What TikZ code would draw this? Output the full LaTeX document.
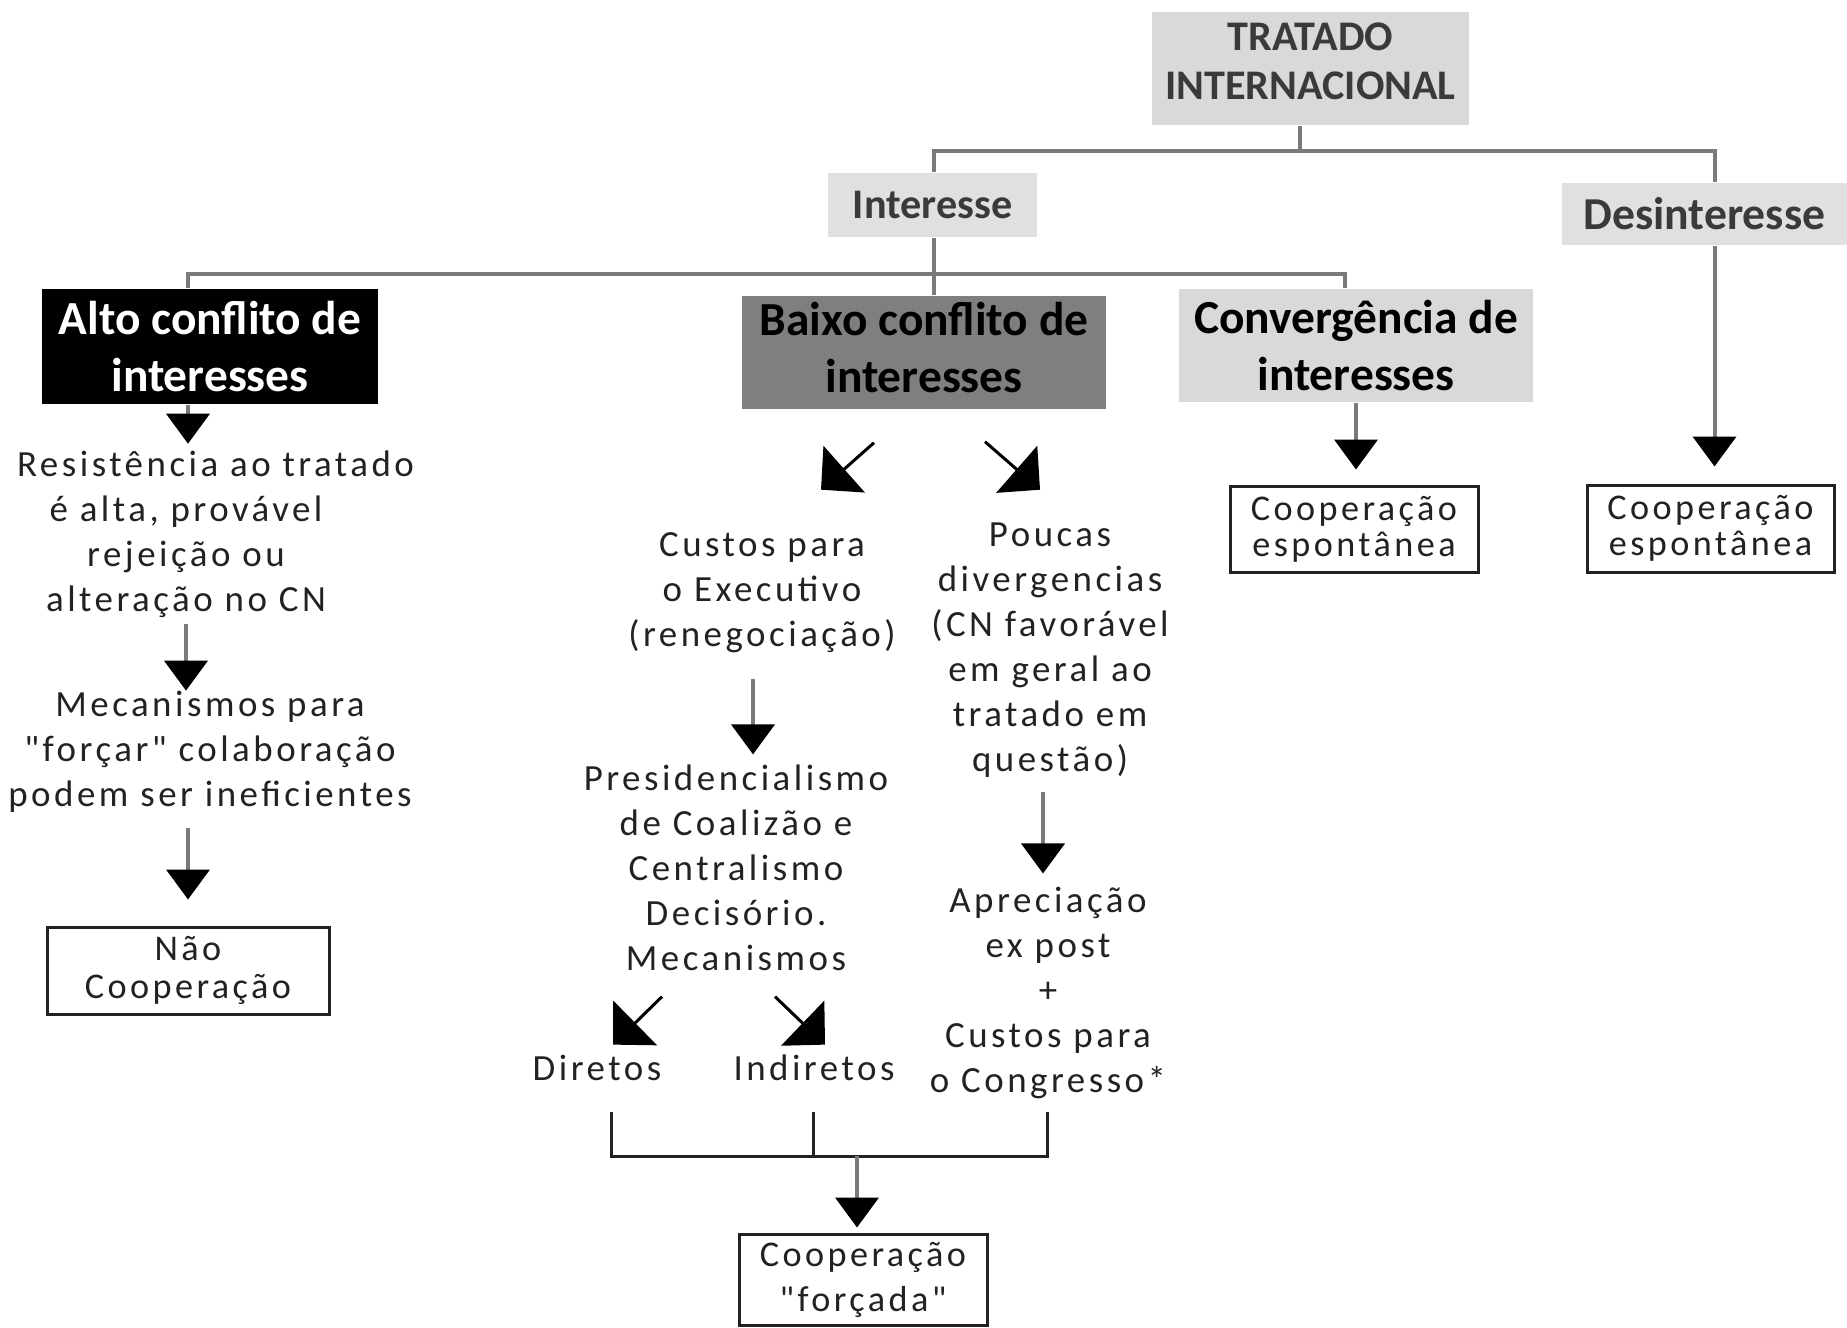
\documentclass[tikz,border=0pt]{standalone}
\usepackage{fontspec}
\setmainfont{Carlito}
\newfontfamily\trk[LetterSpace=9.5]{Carlito}
\usetikzlibrary{arrows.meta}
\definecolor{lgray}{HTML}{D9D9D9}
\definecolor{lgraytwo}{HTML}{E0E0E0}
\definecolor{mgray}{HTML}{7F7F7F}
\definecolor{cgray}{HTML}{7A7A7A}
\definecolor{ttext}{HTML}{3A3A3A}
\definecolor{btext}{HTML}{222222}
\begin{document}
\begin{tikzpicture}[x=0.1mm,y=-0.1mm,
  conn/.style={draw=cgray,line width=0.4mm},
  arr/.style={conn,-{Triangle[length=3mm,width=4.3mm,color=black]}},
  darr/.style={draw=black,line width=0.3mm,-{Triangle[length=3.1mm,width=6.2mm]}},
  brk/.style={draw=btext,line width=0.3mm},
  hbox/.style={inner sep=0pt,align=center,text=ttext,font=\bfseries\fontsize{12pt}{14pt}\selectfont},
  bbox/.style={inner sep=0pt,align=center,font=\bfseries\fontsize{13.5pt}{16.2pt}\selectfont},
  txt/.style={inner sep=0pt,align=center,text=btext,font=\trk\fontsize{10.5pt}{12.8pt}\selectfont},
  obox/.style={draw=btext,line width=0.3mm,fill=white,inner sep=0pt,align=center,text=btext,font=\trk\fontsize{10.3pt}{10.3pt}\selectfont}
]
\useasboundingbox (0,0) rectangle (1847,1327);

% header boxes
\node[hbox,fill=lgray,minimum width=31.7mm,minimum height=11.3mm] (trat) at (1310.5,68.5) {TRATADO\\INTERNACIONAL\\[-10pt]\mbox{}};
\node[hbox,fill=lgraytwo,minimum width=20.9mm,minimum height=6.4mm] (inter) at (932.5,205) {Interesse};
\node[hbox,fill=lgraytwo,minimum width=28.5mm,minimum height=6.2mm,font=\bfseries\fontsize{13pt}{14pt}\selectfont] (desint) at (1704.5,214) {Desinteresse};

\node[bbox,fill=black,text=white,minimum width=33.6mm,minimum height=11.5mm] (alto) at (210,346.5) {Alto conflito de\\interesses};
\node[bbox,fill=mgray,text=black,minimum width=36.4mm,minimum height=11.3mm] (baixo) at (924,352.5) {Baixo conflito de\\interesses\\[-13.4pt]\mbox{}};
\node[bbox,fill=lgray,text=black,minimum width=35.4mm,minimum height=11.3mm] (conv) at (1356,345.5) {Convergência de\\interesses};

% text nodes
\node[txt] (resist) at (186,534) {\hspace*{5.9mm}Resistência ao tratado\\é alta, provável\\rejeição ou\\alteração no CN};
\node[txt] (mec) at (210,752) {Mecanismos para\\"forçar" colaboração\\podem ser ineficientes};
\node[obox,minimum width=28.2mm,minimum height=8.7mm,font=\trk\fontsize{10.3pt}{10.6pt}\selectfont] (nao) at (188,970.5) {Não\\Cooperação};

\node[txt] (custos) at (762,593) {Custos para\\o Executivo\\(renegociação)};
\node[txt] (presid) at (736,868) {Presidencialismo\\de Coalizão e\\Centralismo\\Decisório.\\Mecanismos};
\node[txt] (poucas) at (1050,650) {Poucas\\divergencias\\(CN favorável\\em geral ao\\tratado em\\questão)};
\node[txt] (apre) at (1048,993) {Apreciação\\ex post\\+\\Custos para\\o Congresso*};
\node[txt] (dir) at (597,1068) {Diretos};
\node[txt] (ind) at (814,1068) {Indiretos};
\node[obox,minimum width=24.8mm,minimum height=9.1mm,font=\trk\fontsize{10.3pt}{12.8pt}\selectfont] (forc) at (863,1279.5) {Cooperação\\"forçada"};

\node[obox,minimum width=24.8mm,minimum height=8.6mm] (coopL) at (1354,529) {Cooperação\\espontânea};
\node[obox,minimum width=24.7mm,minimum height=8.7mm] (coopR) at (1710.5,528.5) {Cooperação\\espontânea};

% tree connectors
\coordinate (j1) at (1300,151);
\coordinate (j2) at (934,274);
\draw[conn] (trat.south -| j1) -- (j1);
\draw[conn] (inter.north -| j2) |- (j1) -| ([shift={(10,0)}]desint.north);
\draw[conn] (inter.south -| j2) -- (j2);
\draw[conn] ([shift={(-22,0)}]alto.north) |- (j2) -| ([shift={(-11,0)}]conv.north);
\draw[conn] (j2) -- (baixo.north -| j2);

% left column
\draw[arr] ([shift={(-22,0)}]alto.south) -- ++(0,39);
\draw[arr,shorten <=0.6mm] (resist.south) -- (resist.south |- mec.north);
\draw[arr,shorten <=1.5mm,shorten >=2.6mm] (nao.north |- mec.south) -- (nao.north);

% middle
\draw[darr] ([shift={(-50,33)}]baixo.south) -- ([shift={(-103,80)}]baixo.south);
\draw[darr] ([shift={(61,32)}]baixo.south) -- ([shift={(116,80)}]baixo.south);
\draw[arr,shorten <=2.5mm,shorten >=1mm] ([shift={(-9,0)}]custos.south) -- ([shift={(-9,0)}]custos.south |- presid.north);
\draw[arr,shorten <=1.4mm,shorten >=1.3mm] ([shift={(-7,0)}]poucas.south) -- ([shift={(-7,0)}]poucas.south |- apre.north);
\draw[darr] ([shift={(-74,25)}]presid.south) -- ([shift={(-123,73)}]presid.south);
\draw[darr] ([shift={(39,25)}]presid.south) -- ([shift={(89,73)}]presid.south);

% bracket
\coordinate (bl) at (611,1112);
\coordinate (bm) at (813,1112);
\coordinate (br) at (1047,1112);
\coordinate (bh) at (857,1156);
\draw[brk] (bl) |- (bh) -| (br);
\draw[brk] (bm) -- (bm |- bh);
\draw[arr,shorten >=0.5mm] (bh) -- (bh |- forc.north);

% right
\draw[arr,shorten >=1.5mm] (conv.south) -- (conv.south |- coopL.north);
\draw[arr,shorten >=1.7mm] ([shift={(10,0)}]desint.south) -- ([shift={(10,0)}]desint.south |- coopR.north);
\end{tikzpicture}
\end{document}
